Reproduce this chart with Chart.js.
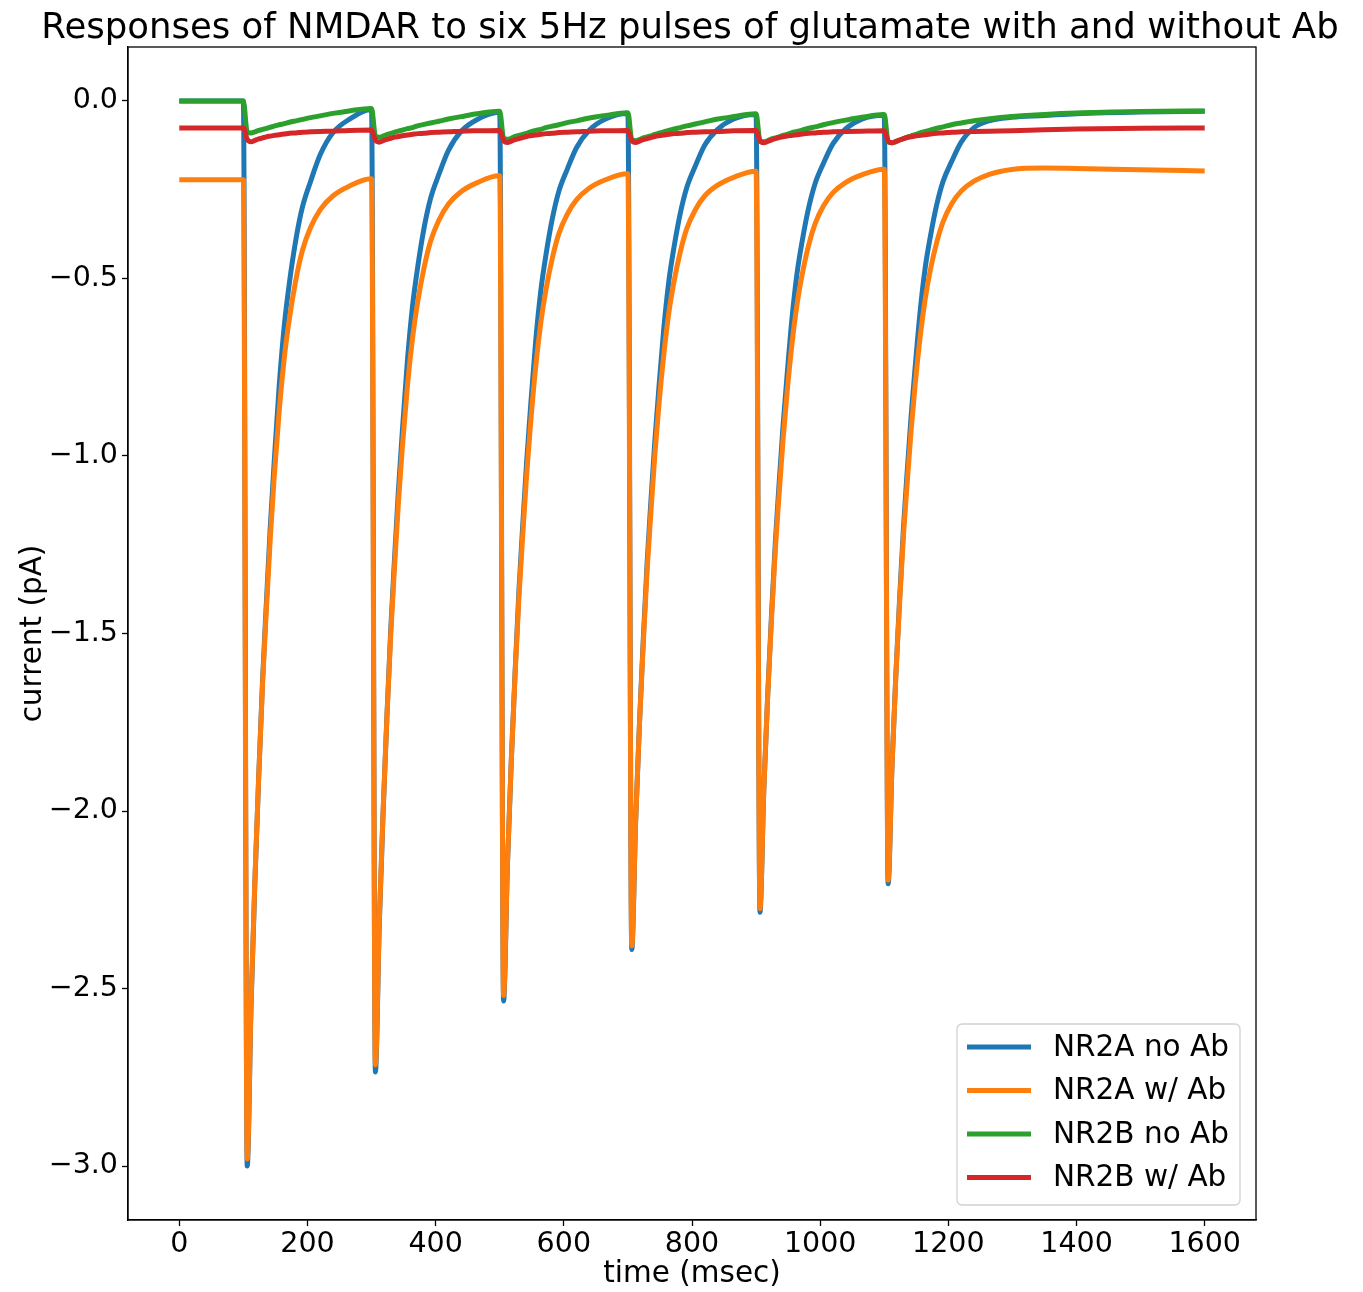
<!DOCTYPE html>
<html lang="en">
<head>
  <meta charset="UTF-8">
  <title>Responses of NMDAR to six 5Hz pulses of glutamate with and without Ab</title>
  <script src="https://cdn.jsdelivr.net/npm/chart.js"></script>
  <style>
    body { margin: 0; background: #fff; }
    #wrap { width: 1363px; height: 1292px; }
  </style>
</head>
<body>
  <div id="wrap"><canvas id="nmdaChart" width="1363" height="1292"></canvas></div>
  <script>
    // time axis (msec), shared by all four traces
    const timeMs = [0,
      100, 106, 112, 118, 124, 130, 136, 142, 148, 156, 164, 172, 182, 192, 205, 220, 240, 265, 299,
      300, 306, 312, 318, 324, 330, 336, 342, 348, 356, 364, 372, 382, 392, 405, 420, 440, 465, 499,
      500, 506, 512, 518, 524, 530, 536, 542, 548, 556, 564, 572, 582, 592, 605, 620, 640, 665, 699,
      700, 706, 712, 718, 724, 730, 736, 742, 748, 756, 764, 772, 782, 792, 805, 820, 840, 865, 899,
      900, 906, 912, 918, 924, 930, 936, 942, 948, 956, 964, 972, 982, 992, 1005, 1020, 1040, 1065, 1099,
      1100, 1106, 1112, 1118, 1124, 1130, 1136, 1142, 1148, 1156, 1164, 1172, 1182, 1192, 1205, 1220, 1240, 1265, 1299,
      1350, 1400, 1500, 1600];

    // current (pA)
    const nr2aNoAb = [0,
      0, -3.00, -2.55, -2.20, -1.90, -1.63, -1.41, -1.20, -1.02, -0.80, -0.63, -0.51, -0.39, -0.30, -0.226, -0.151, -0.089, -0.052, -0.024,
      -0.024, -2.735, -2.325, -2.007, -1.733, -1.486, -1.285, -1.095, -0.932, -0.731, -0.577, -0.468, -0.357, -0.275, -0.207, -0.139, -0.085, -0.052, -0.032,
      -0.032, -2.535, -2.155, -1.861, -1.607, -1.378, -1.192, -1.016, -0.865, -0.679, -0.536, -0.435, -0.332, -0.256, -0.194, -0.131, -0.082, -0.051, -0.035,
      -0.035, -2.39, -2.032, -1.755, -1.515, -1.30, -1.124, -0.959, -0.816, -0.641, -0.506, -0.411, -0.314, -0.243, -0.184, -0.124, -0.080, -0.051, -0.038,
      -0.038, -2.285, -1.943, -1.678, -1.449, -1.243, -1.075, -0.917, -0.781, -0.613, -0.484, -0.394, -0.301, -0.233, -0.176, -0.120, -0.078, -0.051, -0.040,
      -0.040, -2.205, -1.875, -1.619, -1.399, -1.20, -1.038, -0.885, -0.754, -0.592, -0.468, -0.381, -0.291, -0.225, -0.171, -0.116, -0.075, -0.055, -0.046,
      -0.041, -0.036, -0.031, -0.029];

    const nr2aWithAb = [-0.222,
      -0.222, -2.98, -2.54, -2.191, -1.90, -1.64, -1.43, -1.231, -1.062, -0.871, -0.721, -0.611, -0.503, -0.422, -0.356, -0.306, -0.267, -0.240, -0.219,
      -0.219, -2.715, -2.316, -2.00, -1.736, -1.50, -1.309, -1.129, -0.976, -0.802, -0.667, -0.566, -0.469, -0.396, -0.336, -0.290, -0.255, -0.230, -0.211,
      -0.211, -2.52, -2.151, -1.859, -1.615, -1.397, -1.22, -1.053, -0.912, -0.751, -0.626, -0.533, -0.443, -0.375, -0.320, -0.278, -0.245, -0.222, -0.205,
      -0.205, -2.38, -2.032, -1.757, -1.527, -1.321, -1.155, -0.998, -0.864, -0.714, -0.595, -0.508, -0.423, -0.359, -0.307, -0.267, -0.237, -0.215, -0.198,
      -0.198, -2.275, -1.943, -1.68, -1.461, -1.264, -1.106, -0.955, -0.828, -0.684, -0.571, -0.488, -0.406, -0.346, -0.296, -0.258, -0.229, -0.208, -0.192,
      -0.192, -2.195, -1.876, -1.622, -1.411, -1.223, -1.07, -0.925, -0.803, -0.664, -0.556, -0.475, -0.397, -0.339, -0.290, -0.254, -0.226, -0.206, -0.193,
      -0.189, -0.190, -0.194, -0.197];

    const nr2bNoAb = [0,
      0, -0.088, -0.090, -0.087, -0.083, -0.080, -0.077, -0.074, -0.071, -0.067, -0.064, -0.060, -0.056, -0.052, -0.047, -0.042, -0.035, -0.028, -0.021,
      -0.021, -0.099, -0.102, -0.099, -0.095, -0.091, -0.088, -0.085, -0.082, -0.078, -0.075, -0.070, -0.066, -0.062, -0.057, -0.051, -0.044, -0.036, -0.029,
      -0.029, -0.105, -0.108, -0.105, -0.100, -0.097, -0.094, -0.091, -0.087, -0.083, -0.080, -0.075, -0.071, -0.067, -0.061, -0.056, -0.048, -0.041, -0.033,
      -0.033, -0.109, -0.112, -0.109, -0.104, -0.101, -0.098, -0.094, -0.091, -0.087, -0.083, -0.079, -0.075, -0.070, -0.065, -0.059, -0.051, -0.044, -0.036,
      -0.036, -0.112, -0.115, -0.112, -0.107, -0.104, -0.101, -0.097, -0.094, -0.089, -0.086, -0.082, -0.077, -0.073, -0.067, -0.061, -0.054, -0.046, -0.038,
      -0.038, -0.115, -0.118, -0.115, -0.110, -0.106, -0.102, -0.098, -0.095, -0.090, -0.086, -0.082, -0.077, -0.073, -0.067, -0.062, -0.056, -0.050, -0.044,
      -0.038, -0.034, -0.030, -0.028];

    const nr2bWithAb = [-0.076,
      -0.076, -0.108, -0.115, -0.111, -0.107, -0.104, -0.101, -0.099, -0.097, -0.095, -0.093, -0.091, -0.090, -0.088, -0.087, -0.086, -0.085, -0.083, -0.082,
      -0.082, -0.110, -0.116, -0.112, -0.108, -0.105, -0.102, -0.100, -0.098, -0.096, -0.094, -0.092, -0.091, -0.089, -0.088, -0.087, -0.085, -0.084, -0.083,
      -0.083, -0.111, -0.117, -0.113, -0.109, -0.106, -0.103, -0.100, -0.098, -0.096, -0.094, -0.092, -0.091, -0.089, -0.088, -0.087, -0.085, -0.084, -0.083,
      -0.083, -0.111, -0.117, -0.113, -0.109, -0.106, -0.103, -0.100, -0.098, -0.096, -0.094, -0.092, -0.091, -0.089, -0.088, -0.087, -0.086, -0.084, -0.083,
      -0.083, -0.112, -0.118, -0.114, -0.110, -0.106, -0.103, -0.101, -0.099, -0.097, -0.095, -0.093, -0.091, -0.090, -0.088, -0.087, -0.086, -0.085, -0.084,
      -0.084, -0.112, -0.118, -0.114, -0.110, -0.106, -0.103, -0.101, -0.099, -0.097, -0.095, -0.093, -0.091, -0.090, -0.088, -0.087, -0.086, -0.085, -0.084,
      -0.081, -0.079, -0.077, -0.076];

    const seriesLabels = ['NR2A no Ab', 'NR2A w/ Ab', 'NR2B no Ab', 'NR2B w/ Ab'];
    const xTicks = [0, 200, 400, 600, 800, 1000, 1200, 1400, 1600];
    const yTicks = [0, -0.5, -1.0, -1.5, -2.0, -2.5, -3.0];
    const chartTitle = 'Responses of NMDAR to six 5Hz pulses of glutamate with and without Ab';

    const colors = ['#1f77b4', '#ff7f0e', '#2ca02c', '#d62728'];
    const FONT = "'DejaVu Sans', 'Noto Sans', sans-serif";

    Chart.defaults.font.family = FONT;
    Chart.defaults.color = '#000';

    function toPoints(values) {
      return timeMs.map((t, i) => ({ x: t, y: values[i] }));
    }

    // title centred over the axes, wider than the plot (no maxWidth squeeze)
    const axesTitle = {
      id: 'axesTitle',
      afterDraw(chart) {
        const { ctx, chartArea: a } = chart;
        ctx.save();
        ctx.font = '35.5px ' + FONT;
        ctx.fillStyle = '#000';
        ctx.textAlign = 'center';
        ctx.textBaseline = 'alphabetic';
        ctx.fillText(chartTitle, (a.left + a.right) / 2 - 2, 38);
        ctx.restore();
      }
    };

    // matplotlib style legend, inside the axes at lower right
    const insideLegend = {
      id: 'insideLegend',
      afterDatasetsDraw(chart) {
        const { ctx, chartArea } = chart;
        const w = 283, h = 181;
        const x0 = chartArea.right - 16 - w;
        const y0 = chartArea.bottom - 15 - h;
        ctx.save();
        ctx.fillStyle = 'rgba(255,255,255,0.8)';
        ctx.strokeStyle = 'rgba(204,204,204,0.9)';
        ctx.lineWidth = 1.3;
        ctx.beginPath();
        ctx.roundRect(x0, y0, w, h, 5);
        ctx.fill();
        ctx.stroke();
        ctx.font = '29.5px ' + FONT;
        ctx.textBaseline = 'middle';
        chart.data.datasets.forEach((ds, i) => {
          const y = y0 + 23 + i * 43.5;
          ctx.strokeStyle = ds.borderColor;
          ctx.lineWidth = 5;
          ctx.beginPath();
          ctx.moveTo(x0 + 10, y);
          ctx.lineTo(x0 + 74, y);
          ctx.stroke();
          ctx.fillStyle = '#000';
          ctx.fillText(ds.label, x0 + 96, y + 1);
        });
        ctx.restore();
      }
    };

    // top and right spines
    const frame = {
      id: 'frame',
      afterDatasetsDraw(chart) {
        const { ctx, chartArea: a } = chart;
        ctx.save();
        ctx.strokeStyle = '#000';
        ctx.lineWidth = 1.3;
        ctx.strokeRect(a.left, a.top, a.right - a.left, a.bottom - a.top);
        ctx.restore();
      }
    };

    const traces = [nr2aNoAb, nr2aWithAb, nr2bNoAb, nr2bWithAb];

    new Chart(document.getElementById('nmdaChart'), {
      type: 'line',
      data: {
        datasets: traces.map((vals, i) => ({
          label: seriesLabels[i],
          data: toPoints(vals),
          borderColor: colors[i],
          backgroundColor: colors[i],
          borderWidth: 5,
          borderJoinStyle: 'round',
          cubicInterpolationMode: 'monotone',
          pointRadius: 0,
          fill: false,
          order: 4 - i   // later series drawn on top, as in matplotlib
        }))
      },
      options: {
        responsive: false,
        animation: false,
        devicePixelRatio: 1,
        layout: { padding: { left: 0, right: 107, top: 47, bottom: 0 } },
        plugins: {
          legend: { display: false },
          tooltip: { enabled: false },
          title: { display: false }
        },
        scales: {
          x: {
            type: 'linear',
            min: -80,
            max: 1680,
            afterFit(scale) { scale.height = 72; },
            afterBuildTicks(scale) { scale.ticks = xTicks.map(v => ({ value: v })); },
            ticks: { font: { size: 28.5 }, color: '#000', padding: 1, maxRotation: 0, callback: v => String(v) },
            grid: { drawOnChartArea: false, drawTicks: true, tickLength: 6, tickColor: '#000', tickWidth: 1.3 },
            border: { display: true, color: '#000', width: 1.3 },
            title: { display: true, text: 'time (msec)', font: { size: 29.5 }, color: '#000', padding: { top: 0, bottom: 0 } }
          },
          y: {
            type: 'linear',
            min: -3.152,
            max: 0.152,
            afterFit(scale) { scale.width = 128; },
            afterBuildTicks(scale) { scale.ticks = yTicks.map(v => ({ value: v })); },
            ticks: {
              font: { size: 28.5 },
              color: '#000',
              padding: 4,
              callback: v => (v < 0 ? '\u2212' : '') + Math.abs(v).toFixed(1)
            },
            grid: { drawOnChartArea: false, drawTicks: true, tickLength: 6, tickColor: '#000', tickWidth: 1.3 },
            border: { display: true, color: '#000', width: 1.3 },
            title: { display: true, text: 'current (pA)', font: { size: 29.5 }, color: '#000', padding: { top: 16, bottom: 0 } }
          }
        }
      },
      plugins: [insideLegend, frame, axesTitle]
    });
  </script>
</body>
</html>
